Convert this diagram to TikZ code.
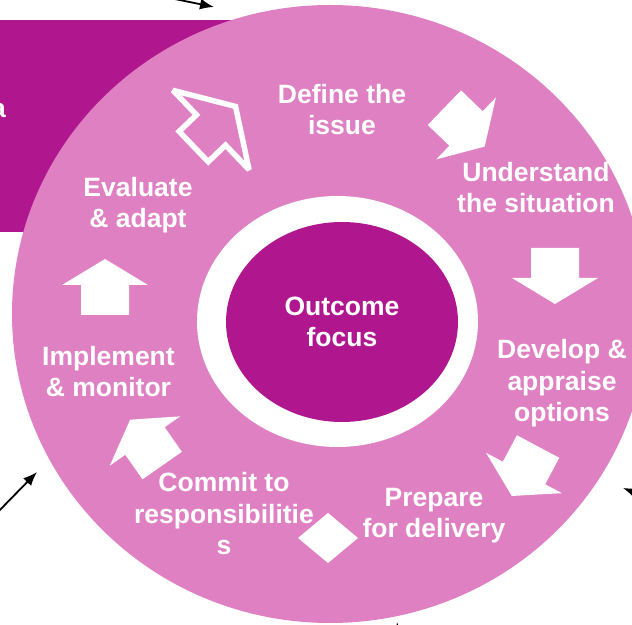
\documentclass[tikz,border=0pt]{standalone}
\usepackage{fontspec}
\setmainfont{Liberation Sans}
\usetikzlibrary{arrows.meta}

\definecolor{hellpink}{HTML}{DF80C2}
\definecolor{lila}{HTML}{B0178F}

\begin{document}
\begin{tikzpicture}[%show background rectangle,
        x=1pt, y=1pt,
        font=\fontsize{26.5}{31.6}\selectfont\bfseries,
        >={Latex[length=14pt,width=11pt]}, % Voreinstellung für Pfeilspitzen
        schritt/.style={text=white, align=center, inner sep=0pt, anchor=base},
        zeiger/.style={->, line width=1.8pt},
        blockpfeil/.pic={
            \fill[white] (-30,-24) -- (0,-24) -- (0,-43) -- (26,0)
                         -- (0,43) -- (0,24) -- (-30,24) -- cycle;
        },
        hohlpfeil/.pic={
            \draw[white, line width=5.5pt, line join=miter, miter limit=3]
                         (-24,-21) -- (0,-21) -- (0,-55) -- (34,0)
                         -- (0,55) -- (0,21) -- (-24,21) -- cycle;
        }
        ]
            \useasboundingbox (0,0) rectangle (632,624);

            % Hintergrund
            \fill[lila] (0,392) rectangle (340,604);
            \fill[hellpink] (330,310) ellipse [x radius=318, y radius=309];
            \fill[white] (337.5,302.5) ellipse [x radius=140.5, y radius=125.5];
            \fill[lila] (342,302) ellipse [x radius=116, y radius=100];

            % Pfeile im Ring
            \pic[rotate=43.8] at (211,494) {hohlpfeil};
            \pic[rotate=-44] at (466,495.5) {blockpfeil};
            \pic[rotate=-90] at (555,346) {blockpfeil};
            \pic[rotate=-118] at (524,151) {blockpfeil};
            \pic[rotate=125] at (145,183) {blockpfeil};
            \pic[rotate=90] at (105,339) {blockpfeil};
            \fill[white] (298,86) -- (328,111) -- (358,86) -- (328,61) -- cycle;

            % Texte
            \node[schritt] (outcome)    at (342,277) {Outcome\\focus};
            \node[schritt] (define)     at (342,489) {Define the\\issue};
            \node[schritt] (understand) at (536,411) {Understand\\the situation};
            \node[schritt] (develop)    at (562,202) {Develop \&\\appraise\\options};
            \node[schritt] (prepare)    at (434,86)  {Prepare\\for delivery};
            \node[schritt] (commit)     at (224,69)  {Commit to\\responsibilitie\\s};
            \node[schritt] (implement)  at (108.5,227) {Implement\\\& monitor};
            \node[schritt] (evaluate)   at (138,396) {Evaluate\\\& adapt};
            \node[schritt, anchor=base east] (randtext) at (6,506) {a};

            % Verweise
            \coordinate (z1a) at (165,627);
            \coordinate (z1b) at (214,617);
            \coordinate (z2a) at (-5,109);
            \coordinate (z2b) at (37,152);
            \coordinate (z3a) at (664,120);
            \coordinate (z3b) at (623,136);
            \coordinate (z4a) at (399,-14);
            \coordinate (z4b) at (397,2);
            \draw[zeiger] (z1a) -- (z1b);
            \draw[zeiger] (z2a) -- (z2b);
            \draw[zeiger] (z3a) -- (z3b);
            \draw[zeiger] (z4a) -- (z4b);

        \end{tikzpicture}
\end{document}
